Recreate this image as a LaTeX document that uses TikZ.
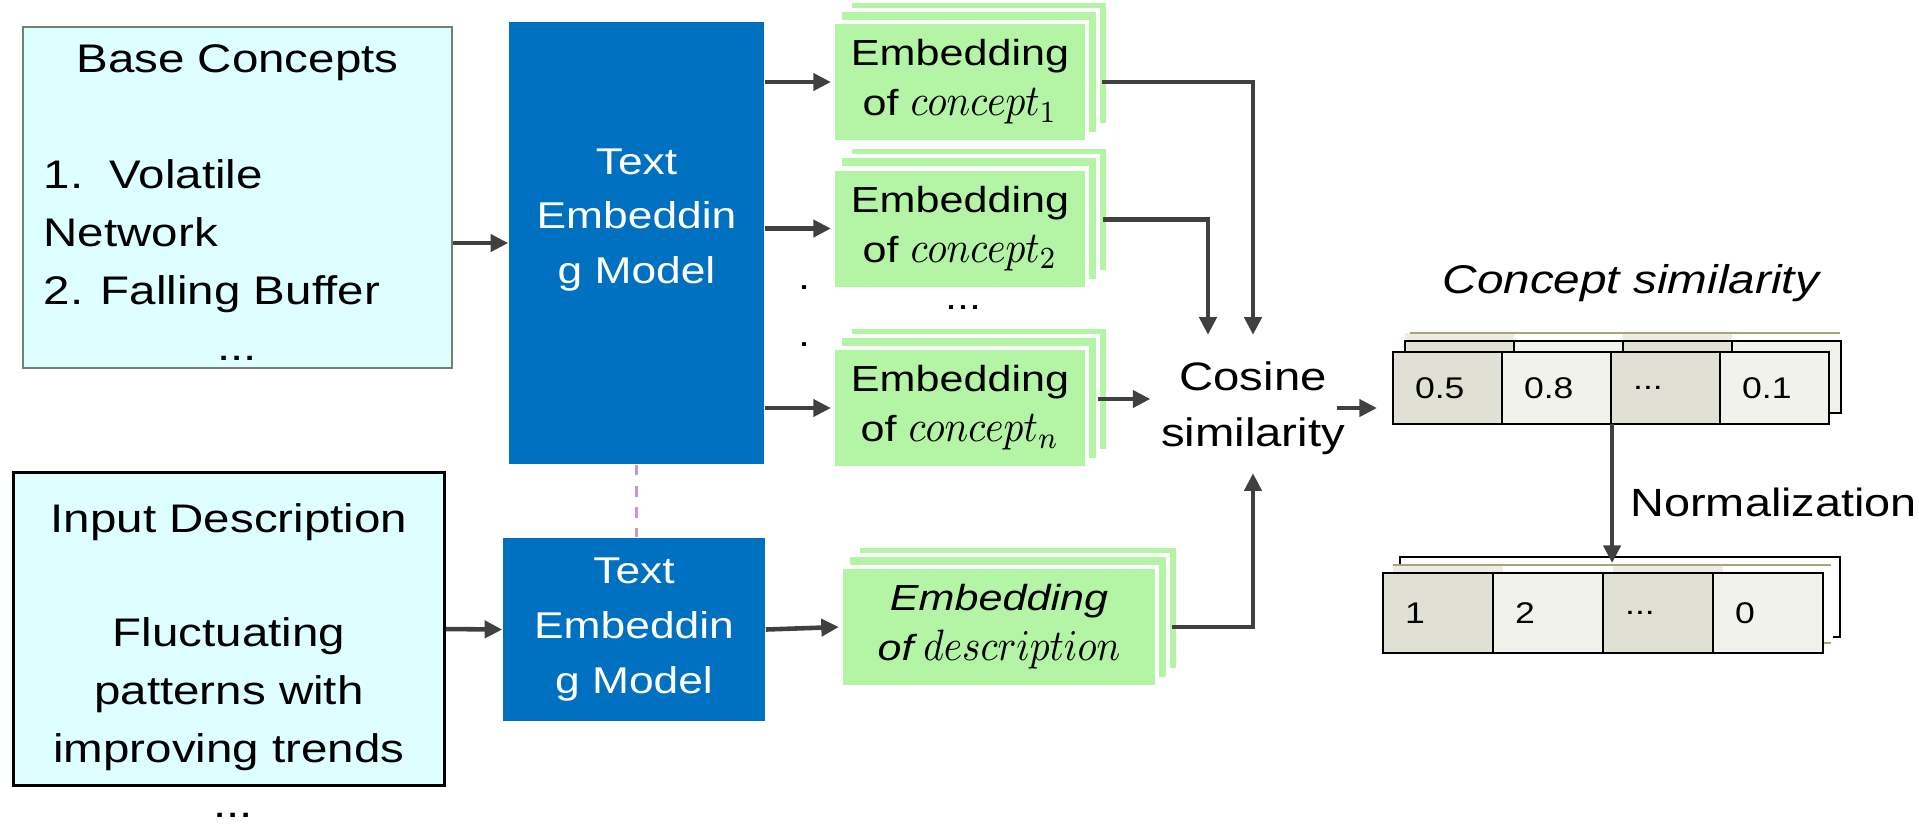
\documentclass[tikz,border=0pt]{standalone}
\usepackage{fontspec}
\setmainfont[FakeStretch=1.19]{Liberation Sans}
\usetikzlibrary{arrows.meta, positioning, backgrounds, calc}
\definecolor{BoxCyan}{RGB}{221,255,255}
\definecolor{BoxGrey}{RGB}{112,130,112}
\definecolor{ModelBlau}{RGB}{0,112,192}
\definecolor{EmbGruen}{RGB}{180,245,165}
\definecolor{TieLila}{RGB}{200,150,212}
\definecolor{ArrGrau}{RGB}{64,64,64}
\definecolor{CellDark}{RGB}{224,224,212}
\definecolor{CellLight}{RGB}{242,242,237}
\definecolor{CellOliv}{RGB}{168,165,125}
\newcommand{\mvar}[1]{\scalebox{1.12}[1.25]{$#1$}}

\begin{document}
\begin{tikzpicture}[x=0.01cm, y=-0.01cm,
    arr/.style={draw=ArrGrau, line width=1.3pt, -{Triangle[length=5pt, width=4.8pt]}},
    srcbox/.style={rectangle, fill=BoxCyan},
    lefttxt/.style={inner sep=0pt, font={\fontsize{11.35}{16.5}\selectfont}},
    model/.style={rectangle, fill=ModelBlau, text=white, align=center, inner sep=0pt, font={\fontsize{10.6}{15.6}\selectfont}},
    emb/.style={rectangle, fill=EmbGruen, draw=white, line width=1.15pt, minimum width=2.54cm, minimum height=1.2cm, align=center, inner sep=0pt, font={\fontsize{10.3}{14.2}\selectfont}},
    stacklayer/.style={fill=EmbGruen, draw=white, line width=1.15pt},
    simcell/.style={rectangle, draw=black, line width=0.6pt, outer sep=0pt, minimum height=0.72cm, text width=0.65cm, inner xsep=0.22cm, align=left, font={\fontsize{8.5}{10}\selectfont}},
    normcell/.style={simcell, minimum height=0.8cm, text width=0.66cm},
    cellline/.style={draw=black, line width=0.6pt},
    olivetop/.style={draw=CellOliv, line width=0.6pt}]
    \useasboundingbox (0,0) rectangle (1919,823);

    % inputs
    \node[srcbox, draw=BoxGrey, line width=0.5pt, minimum width=4.29cm, minimum height=3.41cm] (base) at (237.5,197.5) {};
    \node[lefttxt, anchor=base] (basettl) at (237.5,72) {Base Concepts};
    \node[lefttxt, anchor=west, align=left] (baselist) at (43,236) {1.\ \ Volatile\\Network\\2. Falling Buffer};
    \node[lefttxt, anchor=base] (basedots) at (237,360) {...};

    \node[srcbox, draw=black, line width=0.85pt, minimum width=4.30cm, minimum height=3.12cm] (inp) at (229,629) {};
    \node[lefttxt, anchor=base] (inpttl) at (229,532) {Input Description};
    \node[lefttxt, align=center] (inptxt) at (229,694) {Fluctuating\\patterns with\\improving trends};
    \node[lefttxt, anchor=base] (inpdots) at (233,817) {...};

    % embedding models
    \node[model, minimum width=2.55cm, minimum height=4.42cm] (tem) at (636.5,243) {};
    \node[model, fill=none] (temtxt) at (636.5,220) {Text\\Embeddin\\g Model};
    \node[model, minimum width=2.62cm, minimum height=1.83cm] (tem2) at (634,629.5) {Text\\Embeddin\\g Model};
    \draw[TieLila, dashed, line width=0.8pt] (tem.south) -- (tem.south |- tem2.north);

    % embeddings
    \node[emb] (c1) at (960,82) {Embedding\\of \mvar{concept_1}};
    \node[emb] (c2) at (960,228.5) {Embedding\\of \mvar{concept_2}};
    \node[emb] (cn) at (960,408) {Embedding\\of \mvar{concept_n}};
    \node[emb, minimum width=3.16cm] (desc) at (999,627) {\textit{Embedding}\\\textit{of}\,\mvar{description}};
    \node[font={\fontsize{10.3}{16.2}\selectfont}, align=center, inner sep=0pt] (vdots) at (804,316) {.\\.};
    \node[font={\fontsize{10.3}{12}\selectfont}, inner sep=0pt] (cdots) at (963,308) {...};

    % similarity
    \node[align=center, inner xsep=0.1cm, inner ysep=0.26cm, font={\fontsize{11.3}{15.9}\selectfont}] (cos) at (1253,408) {Cosine\\similarity};
    \node[anchor=base, font={\fontsize{11.4}{14}\selectfont}] (simlbl) at (1632,293) {\textit{Concept similarity}};
    \node[simcell, fill=CellDark] (s1) at (1447.5,388) {0.5};
    \node[simcell, fill=CellLight, right=0pt of s1] (s2) {0.8};
    \node[simcell, fill=CellDark, right=0pt of s2] (s3) {...};
    \node[simcell, fill=CellLight, right=0pt of s3] (s4) {0.1};
    \node[anchor=base west, font={\fontsize{11.2}{14}\selectfont}] (normlbl) at (1618,516) {Normalization};
    \node[normcell, fill=CellDark] (n1) at (1438,613) {1};
    \node[normcell, fill=CellLight, right=0pt of n1] (n2) {2};
    \node[normcell, fill=CellDark, right=0pt of n2] (n3) {...};
    \node[normcell, fill=CellLight, right=0pt of n3] (n4) {0};

    % stacked copies behind
    \begin{scope}[on background layer]
        \foreach \s in {c1,c2,cn,desc}{
            \draw[stacklayer] ([shift={(19,-19)}]\s.south west) rectangle ([shift={(19,-19)}]\s.north east);
            \draw[stacklayer] ([shift={(9,-10)}]\s.south west) rectangle ([shift={(9,-10)}]\s.north east);
        }
        \foreach \s/\f in {s1/CellDark,s2/white,s3/CellDark,s4/white}
            \fill[\f!60] ([shift={(12,-19)}]\s.south west) rectangle ([shift={(12,-19)}]\s.north east);
        \draw[olivetop] ([shift={(17,-19)}]s1.north west) -- ([shift={(11,-19)}]s4.north east);
        \foreach \s/\f in {s1/CellDark,s2/CellLight,s3/CellDark,s4/CellLight}
            \draw[cellline, fill=\f] ([shift={(12,-11)}]\s.south west) rectangle ([shift={(12,-11)}]\s.north east);
        \draw[cellline, fill=white] ([shift={(17,-16)}]n1.south west) rectangle ([shift={(17,-16)}]n4.north east);
        \foreach \s/\f in {n1/CellDark,n2/white,n3/CellDark,n4/white}
            \fill[\f!60] ([shift={(10,-8)}]\s.south west) rectangle ([shift={(10,-8)}]\s.north east);
        \draw[olivetop] ([shift={(10,-8)}]n1.north west) -- ([shift={(8,-8)}]n4.north east);
        \draw[olivetop] ([shift={(10,-10)}]n1.south west) -- ([shift={(8,-10)}]n4.south east);
    \end{scope}

    % connectors
    \draw[arr] (base.east |- tem.west) -- (tem.west);
    \draw[arr] (inp.east) -- (tem2.west);
    \foreach \c in {c1,c2,cn}
        \draw[arr] (tem.east |- \c.west) -- (\c.west);
    \draw[arr] (tem2.east) -- (desc.west);
    \draw[arr] ([xshift=0.13cm]c1.east) -| (cos.north);
    \draw[arr] ([xshift=0.14cm, yshift=0.09cm]c2.east) -| ([xshift=-0.45cm]cos.north);
    \draw[arr] ([xshift=0.09cm, yshift=0.09cm]cn.east) -- ([yshift=0.09cm]cos.west);
    \draw[arr] ([xshift=0.13cm]desc.east) -| ([yshift=0.08cm]cos.south);
    \draw[arr] ([xshift=-0.19cm]cos.east) -- ($(s1.west |- cos.east)+(-16,0)$);
    \draw[arr] ($(s3.south west)+(1,0)$) -- ($(s3.south west |- n3.north)+(1,-10)$);
\end{tikzpicture}
\end{document}
